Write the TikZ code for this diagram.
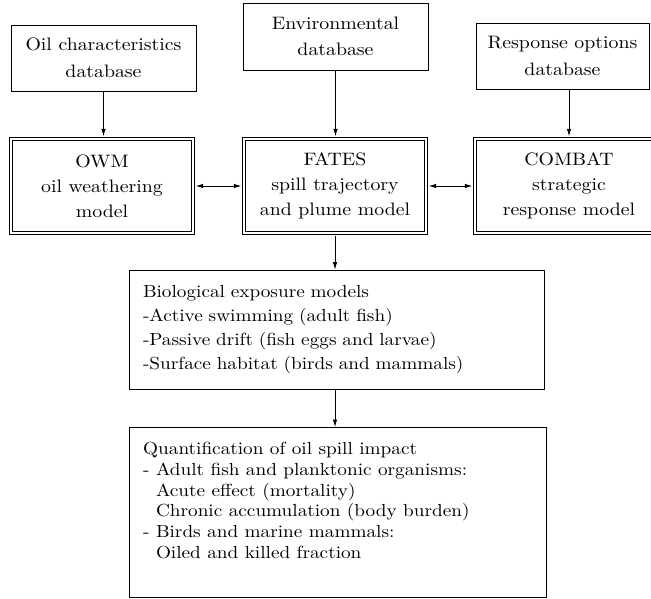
\documentclass[tikz,border=0pt]{standalone}
\usepackage{fontspec}
\setmainfont{lmroman10-regular.otf}[FakeStretch=1.1]
\usetikzlibrary{arrows.meta,calc}
\begin{document}
\begin{tikzpicture}[x=1pt,y=1pt,
  box/.style={draw, line width=0.8pt, inner sep=0pt, align=center, font=\fontsize{18}{26.5}\selectfont},
  dbox/.style={draw, line width=0.7pt, double, double distance=2.2pt, inner sep=0pt, outer sep=2.5pt, align=center, font=\fontsize{18}{25}\selectfont},
  listbox/.style={draw, line width=0.8pt, inner ysep=0pt, inner xsep=14pt, align=left},
  arr/.style={-{Latex[length=7.5pt,width=4.5pt]}, line width=0.8pt},
  darr/.style={{Latex[length=7.5pt,width=4.5pt]}-{Latex[length=7.5pt,width=4.5pt]}, line width=0.8pt}]
\useasboundingbox (0,0) rectangle (651,-599);

% databases
\node[box, minimum width=185, minimum height=66] (oil) at (103.5,-58) {Oil characteristics\\database};
\node[box, minimum width=185, minimum height=67] (env) at (335.5,-36.5) {Environmental\\database};
\node[box, minimum width=173, minimum height=66] (resp) at (562.5,-56) {Response options\\database};

% models
\node[dbox, minimum width=182.4, minimum height=94.4] (owm) at (102,-186) {OWM\\oil weathering\\model};
\node[dbox, minimum width=182.4, minimum height=94.4] (fates) at (335,-186) {FATES\\spill trajectory\\and plume model};
\node[dbox, minimum width=188.4, minimum height=94.4] (combat) at (569,-186) {COMBAT\\strategic\\response model};

% biological exposure
\node[listbox, text width=387, minimum height=119, font=\fontsize{17.5}{24}\selectfont] (bio) at (336.5,-329.5)
  {Biological exposure models\\-Active swimming (adult fish)\\-Passive drift (fish eggs and larvae)\\-Surface habitat (birds and mammals)};

% impact
\node[draw, line width=0.8pt, minimum width=417, minimum height=170, anchor=north west, inner sep=0pt] (impact) at (129,-427) {};
\node[anchor=north west, inner sep=0pt, align=left, font=\fontsize{17.5}{20.8}\selectfont] (impacttext) at ($(impact.north west)+(14,-15)$)
  {Quantification of oil spill impact\\- Adult fish and planktonic organisms:\\\hphantom{- }Acute effect (mortality)\\\hphantom{- }Chronic accumulation (body burden)\\- Birds and marine mammals:\\\hphantom{- }Oiled and killed fraction};

% connectors
\draw[arr] (oil.south) -- (oil.south |- owm.north);
\draw[arr] (env.south) -- (env.south |- fates.north);
\draw[arr] (resp.south -| combat.north) -- (combat.north);
\draw[darr] (owm.east) -- (fates.west);
\draw[darr] (fates.east) -- (combat.west);
\draw[arr] (fates.south) -- (fates.south |- bio.north);
\draw[arr] (bio.south -| fates.south) -- (fates.south |- impact.north);
\end{tikzpicture}
\end{document}
